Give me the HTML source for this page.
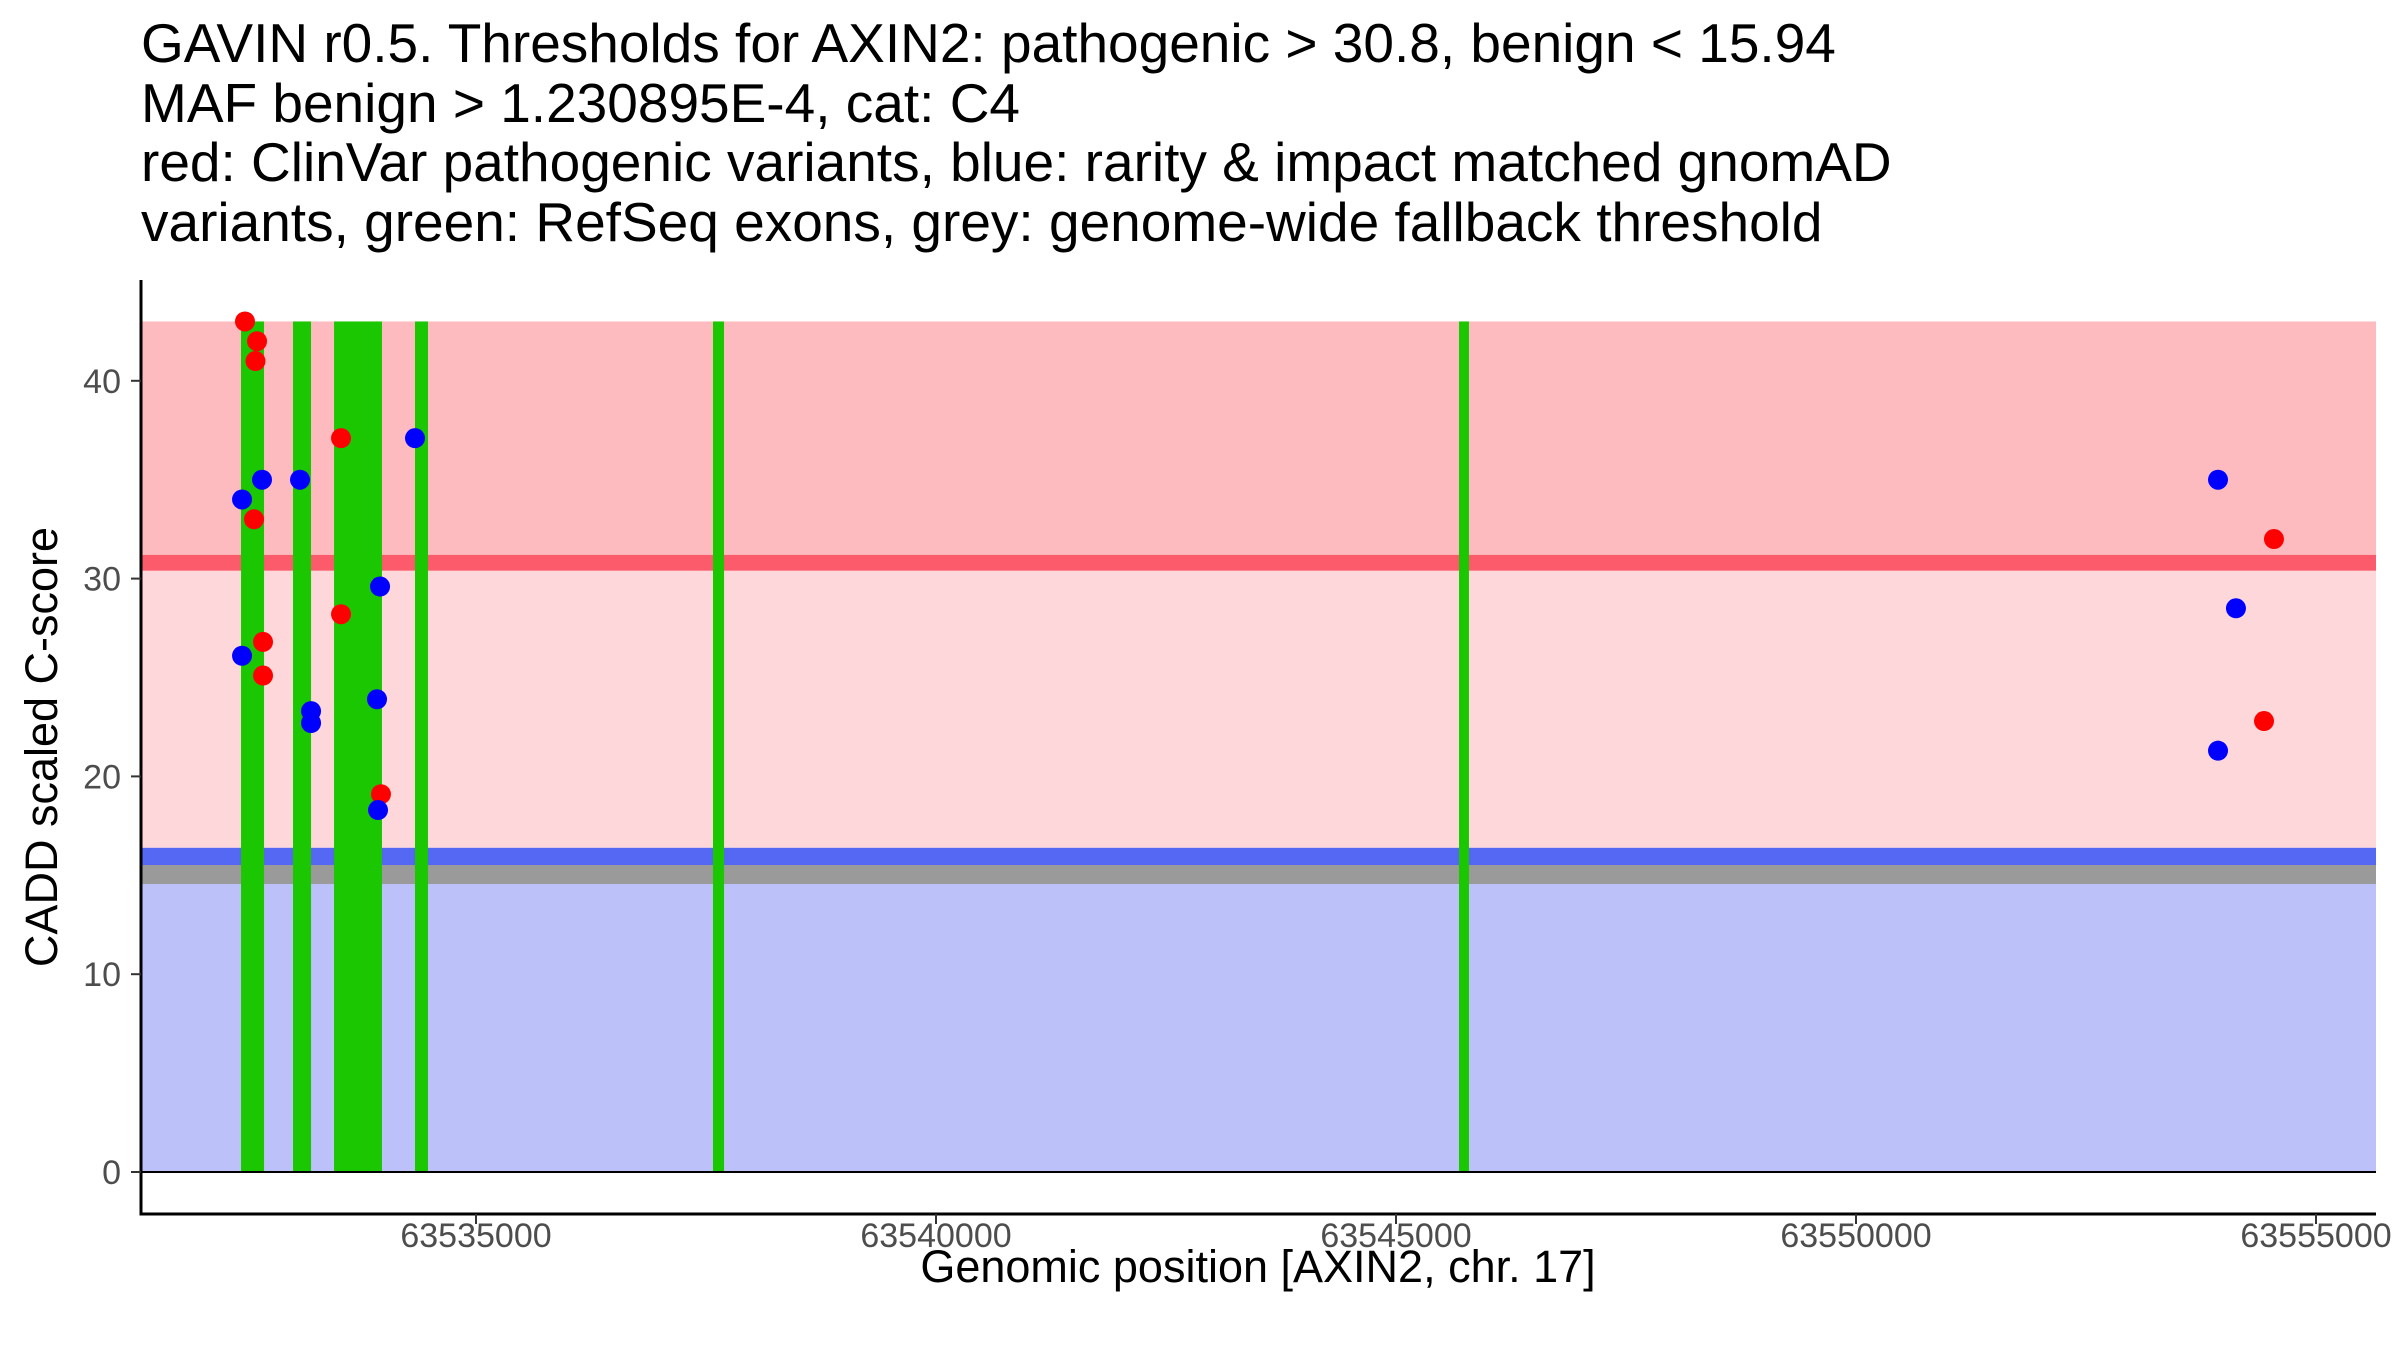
<!DOCTYPE html>
<html><head><meta charset="utf-8"><style>
html,body{margin:0;padding:0;background:#fff;}
svg{display:block;font-family:"Liberation Sans",Arial,sans-serif;}
</style></head><body>
<svg id="chart" width="2400" height="1350" viewBox="0 0 2400 1350" xmlns="http://www.w3.org/2000/svg">
<g font-size="55" fill="#000">
<text x="141" y="62">GAVIN r0.5. Thresholds for AXIN2: pathogenic &gt; 30.8, benign &lt; 15.94</text>
<text x="141" y="122">MAF benign &gt; 1.230895E-4, cat: C4</text>
<text x="141" y="181">red: ClinVar pathogenic variants, blue: rarity &amp; impact matched gnomAD</text>
<text x="141" y="241">variants, green: RefSeq exons, grey: genome-wide fallback threshold</text>
</g>
<g id="bands"></g>
<g id="exons"></g>
<g id="points"></g>
<g id="axes"></g>
<text x="1258" y="1282" font-size="45" text-anchor="middle">Genomic position [AXIN2, chr. 17]</text>
<text x="0" y="0" font-size="45" text-anchor="middle" transform="translate(57,747) rotate(-90)">CADD scaled C-score</text>
</svg>
<script>
const exonStarts = [63532446, 63533011, 63533457, 63534337, 63537576, 63545685];
const exonEnds   = [63532696, 63533207, 63533978, 63534478, 63537696, 63545793];
const pathoPos   = [63532489, 63532620, 63532603, 63532587, 63532685, 63532685, 63533533, 63533533, 63533967, 63554543, 63554435];
const pathoScore = [43, 42, 41, 33, 26.8, 25.1, 37.1, 28.2, 19.1, 32, 22.8];
const benignPos   = [63532457, 63532674, 63532457, 63533087, 63533207, 63533207, 63533957, 63533924, 63533935, 63534337, 63553935, 63554130, 63553935];
const benignScore = [34, 35, 26.1, 35, 23.3, 22.7, 29.6, 23.9, 18.3, 37.1, 35, 28.5, 21.3];
const xTicks = [63535000, 63540000, 63545000, 63550000, 63555000];
const yTicks = [0, 10, 20, 30, 40];
const pathThr = 30.8, benThr = 15.94, fallbackThr = 15.04, yMaxBand = 43;

const NS = "http://www.w3.org/2000/svg";
const L = 141, R = 2376, T = 280, B = 1214;
const xs = p => 476 + (p - 63535000) * 460 / 5000;
const ys = v => 1172 - v * 19.78;
function mk(tag, attrs, parent){const e=document.createElementNS(NS,tag);for(const k in attrs)e.setAttribute(k,attrs[k]);parent.appendChild(e);return e;}
const bands=document.getElementById('bands');
let r;
r=mk('rect',{x:L,y:ys(yMaxBand),width:R-L,height:ys(pathThr+0.4)-ys(yMaxBand),fill:'#fdbbc0'},bands);


r=mk('rect',{x:L,y:ys(pathThr-0.4),width:R-L,height:ys(benThr+0.45)-ys(pathThr-0.4),fill:'#fed7db'},bands);


r=mk('rect',{x:L,y:ys(fallbackThr-0.48),width:R-L,height:ys(0)-ys(fallbackThr-0.48),fill:'#bcc1fa'},bands);


r=mk('rect',{x:L,y:ys(pathThr+0.4),width:R-L,height:ys(pathThr-0.4)-ys(pathThr+0.4),fill:'#fb5b6a'},bands);


r=mk('rect',{x:L,y:ys(benThr+0.45),width:R-L,height:ys(benThr-0.45)-ys(benThr+0.45),fill:'#5468f3'},bands);


r=mk('rect',{x:L,y:ys(fallbackThr+0.48),width:R-L,height:ys(fallbackThr-0.48)-ys(fallbackThr+0.48),fill:'#9a9a9a'},bands);


const ex=document.getElementById('exons');
exonStarts.forEach((s,i)=>{const e=mk('rect',{x:xs(s),y:ys(yMaxBand),width:xs(exonEnds[i])-xs(s),height:ys(0)-ys(yMaxBand),fill:'#1ac700'},ex);

});
const pts=document.getElementById('points');
pathoPos.forEach((p,i)=>{const c=mk('circle',{cx:xs(p),cy:ys(pathoScore[i]),r:10,fill:'#ff0000'},pts);

});
benignPos.forEach((p,i)=>{const c=mk('circle',{cx:xs(p),cy:ys(benignScore[i]),r:10,fill:'#0000ff'},pts);

});
const ax=document.getElementById('axes');
let ln=mk('line',{x1:L,x2:R,y1:ys(0),y2:ys(0),stroke:'#000','stroke-width':2},ax);


ln=mk('line',{x1:L,x2:L,y1:T,y2:B+1.5,stroke:'#000','stroke-width':3},ax);


ln=mk('line',{x1:L-1.5,x2:R,y1:B,y2:B,stroke:'#000','stroke-width':3},ax);


yTicks.forEach(v=>{mk('line',{x1:L-10,x2:L,y1:ys(v),y2:ys(v),stroke:'#333','stroke-width':2},ax);
const t=mk('text',{x:L-20,y:ys(v)+12,'font-size':34,fill:'#4d4d4d','text-anchor':'end'},ax);t.textContent=v;

});
xTicks.forEach(v=>{mk('line',{x1:xs(v),x2:xs(v),y1:B,y2:B+10,stroke:'#333','stroke-width':2},ax);
const t=mk('text',{x:xs(v),y:B+33,'font-size':34,fill:'#4d4d4d','text-anchor':'middle'},ax);t.textContent=v;

});
</script>
</body></html>
